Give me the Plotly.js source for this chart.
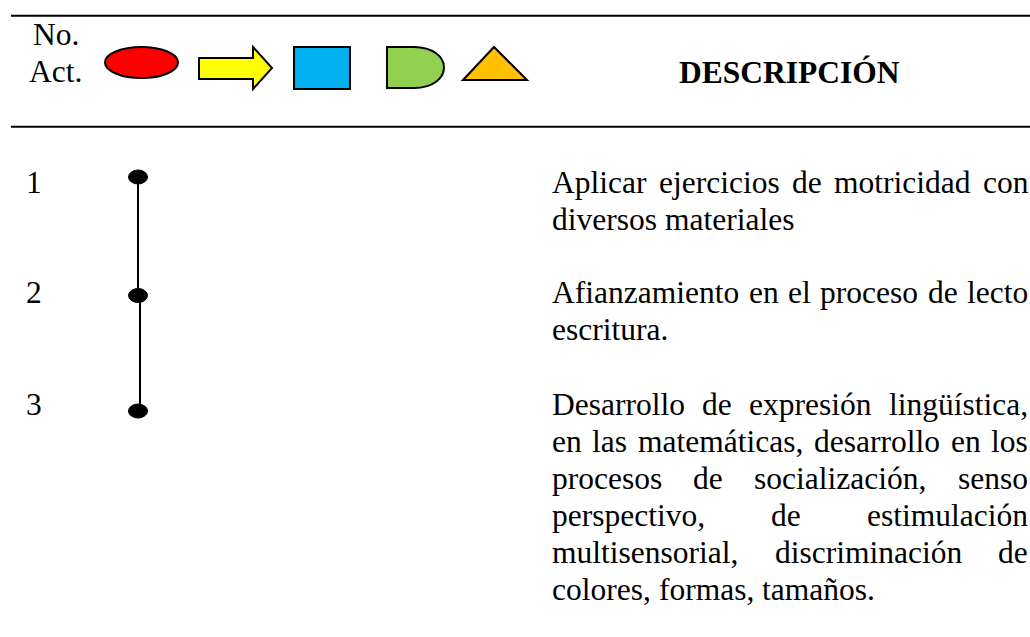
<!DOCTYPE html>
<html><head><meta charset="utf-8">
<script src="https://cdn.plot.ly/plotly-3.0.1.min.js"></script>
<style>html,body{margin:0;padding:0;background:#fff}#chart{width:1030px;height:637px}</style>
</head><body><div id="chart"></div>
<script>
// ---- content ----
const headerLabel = ["No.", "Act."];
const headerTitle = "DESCRIPCIÓN";
const legendShapes = ["ellipse", "arrow", "square", "delay", "triangle"];
const legendColors = ["#FF0000", "#FFFF00", "#00B0F0", "#92D050", "#FFC000"];
const stepNumbers = ["1", "2", "3"];
const stepLines = [
  ["Aplicar ejercicios de motricidad con", "diversos materiales"],
  ["Afianzamiento en el proceso de lecto", "escritura."],
  ["Desarrollo de expresión lingüística,", "en las matemáticas, desarrollo en los",
   "procesos de socialización, senso", "perspectivo, de estimulación",
   "multisensorial, discriminación de", "colores, formas, tamaños."]
];

// ---- layout constants ----
const W = 1030, H = 637, FS = 31.5;
const FAMILY = '"Liberation Serif", "Times New Roman", serif';
const textLeft = 552, textRight = 1028, lineGap = 37;
const stepBaselines = [193, 303, 415];
const dotX = 138, dotY = [177, 295.5, 411], dotW = 19, dotH = 14;
const numX = 26;
const BASE_OFF = 0.3375 * FS; // baseline offset from text box middle

const ctx = document.createElement('canvas').getContext('2d');
ctx.font = FS + 'px "Liberation Serif"';
const measure = s => ctx.measureText(s).width;

const ann = [];
function addText(text, x, baseline, opts) {
  ann.push(Object.assign({
    x: x, y: baseline - BASE_OFF, xref: 'x', yref: 'y', text: text,
    showarrow: false, xanchor: 'left', yanchor: 'middle', borderpad: 0, borderwidth: 0,
    font: {family: FAMILY, size: FS, color: '#000'}
  }, opts || {}));
}

// header
addText(headerLabel[0], 55.5, 45, {xanchor: 'center'});
addText(headerLabel[1], 55.5, 82, {xanchor: 'center'});
addText('<b>' + headerTitle + '</b>', 789, 83, {xanchor: 'center'});

// steps
stepNumbers.forEach((n, i) => addText(n, numX, stepBaselines[i]));
stepLines.forEach((lines, p) => {
  lines.forEach((line, li) => {
    const baseline = stepBaselines[p] + li * lineGap;
    const words = line.split(' ');
    const widths = words.map(measure);
    const total = widths.reduce((a, b) => a + b, 0);
    const justify = li < lines.length - 1 && words.length > 1;
    const gap = justify ? (textRight - textLeft - total) / (words.length - 1) : measure(' ');
    let x = textLeft;
    words.forEach((w, k) => { addText(w, x, baseline); x += widths[k] + gap; });
  });
});

// shapes
const shapes = [];
const ln = {color: '#000', width: 2};
shapes.push({type: 'line', x0: 11, x1: W, y0: 15.7, y1: 15.7, line: ln});
shapes.push({type: 'line', x0: 11, x1: W, y0: 126.7, y1: 126.7, line: ln});
const legendPaths = {
  ellipse: null,
  arrow: 'M199,58 L253,58 L253,47 L272,68 L253,89 L253,79 L199,79 Z',
  square: 'M294,47 L350,47 L350,89 L294,89 Z',
  delay: 'M387,47 L414,47 C433,47 444,57 444,67.5 C444,78 433,88 414,88 L387,88 Z',
  triangle: 'M463,80 L494,47 L527,80 Z'
};
legendShapes.forEach((s, i) => {
  if (s === 'ellipse') {
    shapes.push({type: 'circle', x0: 105, x1: 178, y0: 47, y1: 78,
      fillcolor: legendColors[i], line: ln});
  } else {
    shapes.push({type: 'path', path: legendPaths[s], fillcolor: legendColors[i], line: ln});
  }
});
// flow connectors
shapes.push({type: 'line', x0: dotX, x1: dotX, y0: dotY[0], y1: dotY[1], line: ln});
shapes.push({type: 'line', x0: dotX + 2, x1: dotX + 2, y0: dotY[1], y1: dotY[2], line: ln});
dotY.forEach(y => shapes.push({type: 'circle', x0: dotX - dotW / 2, x1: dotX + dotW / 2,
  y0: y - dotH / 2, y1: y + dotH / 2, fillcolor: '#000', line: {color: '#000', width: 1}}));

const layout = {
  width: W, height: H, margin: {l: 0, r: 0, t: 0, b: 0},
  paper_bgcolor: '#fff', plot_bgcolor: '#fff', showlegend: false,
  xaxis: {range: [0, W], visible: false, fixedrange: true},
  yaxis: {range: [H, 0], visible: false, fixedrange: true},
  shapes: shapes, annotations: ann
};
Plotly.newPlot('chart', [{x: [], y: [], type: 'scatter'}], layout, {staticPlot: true, displayModeBar: false});
</script></body></html>
